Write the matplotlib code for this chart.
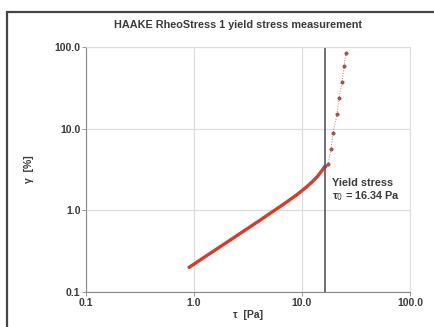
import numpy as np
import matplotlib
matplotlib.use('Agg')
import matplotlib.pyplot as plt
from matplotlib.patches import Rectangle

# flow curve (shear stress tau in Pa, deformation gamma in %)
tau_flow = [0.9, 1.2, 1.6, 2.2, 3.0, 4.0, 5.3, 7.0, 9.0, 11.0, 12.6, 14.0, 15.2, 16.3]
gamma_flow = [0.200, 0.258, 0.332, 0.439, 0.577, 0.743, 0.957, 1.23, 1.56, 1.93, 2.27, 2.63, 3.03, 3.45]

# points above the yield stress
tau_yield = [16.3, 17.4, 18.6, 19.4, 21.1, 22.0, 23.5, 24.5, 25.5]
gamma_yield = [3.45, 3.7, 5.7, 8.9, 15.2, 23.9, 37.4, 58.6, 84.5]

yield_stress = 16.34
ticks = [0.1, 1.0, 10.0, 100.0]
tick_labels = ['0.1', '1.0', '10.0', '100.0']

plt.rcParams['font.family'] = ['Liberation Sans', 'DejaVu Sans']
txt = '#3a3a3a'

fig = plt.figure(figsize=(4.35, 3.27), dpi=100)
fig.patches.append(Rectangle((7 / 435, -0.1), 1.2, (327 - 12) / 327 + 0.1,
                             transform=fig.transFigure, fill=False,
                             edgecolor='#444444', linewidth=1.6))
ax = fig.add_axes([86 / 435, 35 / 327, 324 / 435, 245 / 327])

ax.plot(tau_flow, gamma_flow, color='#d63c2a', linewidth=2.4, solid_capstyle='round')
ax.plot(tau_yield, gamma_yield, color='#e07060', linewidth=0.7, linestyle=':',
        marker='o', markersize=2.4, markerfacecolor='#b85048',
        markeredgecolor='#7a4040', markeredgewidth=0.4)
ax.axvline(yield_stress, color='#555566', linewidth=1.2)

ax.set_xscale('log')
ax.set_yscale('log')
ax.set_xlim(0.1, 100)
ax.set_ylim(0.1, 100)
ax.set_xticks(ticks)
ax.set_xticklabels(tick_labels)
ax.set_yticks(ticks)
ax.set_yticklabels(tick_labels)
ax.minorticks_off()
ax.grid(True, color='#dddddd', linewidth=0.9)
ax.tick_params(length=3, width=0.6, color='#888888', labelsize=7.5,
               labelcolor=txt, pad=1)
for lab in ax.get_xticklabels() + ax.get_yticklabels():
    lab.set_fontweight('bold')
for s in ['left', 'bottom']:
    ax.spines[s].set_color('#888888')
for s in ['top', 'right']:
    ax.spines[s].set_color('#dddddd')

ax.set_title('HAAKE RheoStress 1 yield stress measurement', fontsize=7.8,
             fontweight='bold', color=txt, pad=14, x=0.47)
ax.set_xlabel('τ  [Pa]', fontsize=7.5, fontweight='bold', color=txt, labelpad=2)
ax.set_ylabel('γ  [%]', fontsize=7.5, fontweight='bold', color=txt, labelpad=15)
ax.text(19.0, 1.75, 'Yield stress\nτ$_0$ = 16.34 Pa', fontsize=7.8,
        fontweight='bold', color=txt, va='center', ha='left', linespacing=1.15)

fig.savefig('out.png', dpi=100)
